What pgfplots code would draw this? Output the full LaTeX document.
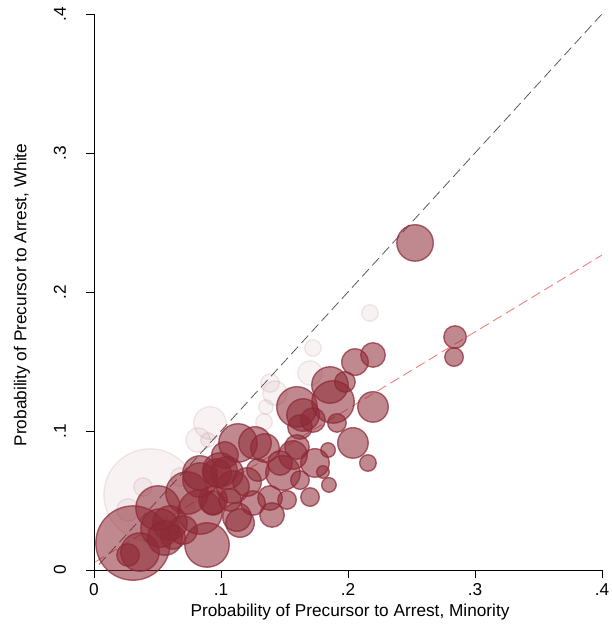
\documentclass[border=0pt]{standalone}
\usepackage{fontspec}
\setmainfont{Liberation Sans}
\usepackage{pgfplots}
\pgfplotsset{compat=1.18}
\usepackage{pgfplotstable}

\definecolor{bub}{RGB}{140,40,52}
\definecolor{gline}{RGB}{90,90,90}
\definecolor{rline}{RGB}{235,40,40}

\pgfplotstableread{
x y r
0.2528 0.2353 19
0.2843 0.1676 12
0.2835 0.1532 10
0.2197 0.1547 13
0.2055 0.1496 14
0.1858 0.1331 19
0.1976 0.1353 11
0.1882 0.1209 22
0.1598 0.1173 21
0.1646 0.1115 17
0.1724 0.1079 13
0.1913 0.1058 10
0.2197 0.1173 16
0.2039 0.0914 16
0.1843 0.0863 8
0.2157 0.0770 9
0.1850 0.0612 8
0.1803 0.0705 7
0.1701 0.0525 10
0.1740 0.0770 15
0.1598 0.0885 13
0.1567 0.0827 15
0.1622 0.1029 13
0.1386 0.0518 13
0.1402 0.0396 13
0.1134 0.0914 20
0.1268 0.0914 17
0.1346 0.0878 15
0.0835 0.0698 18
0.1047 0.0698 17
0.1205 0.0633 15
0.1465 0.0770 13
0.1252 0.0482 13
0.1126 0.0381 15
0.0937 0.0482 13
0.0307 0.0194 38
0.0362 0.0129 20
0.0504 0.0446 23
0.0520 0.0302 20
0.0559 0.0230 18
0.0598 0.0338 18
0.0732 0.0554 22
0.0835 0.0647 18
0.0835 0.0417 23
0.0890 0.0180 23
0.0701 0.0288 15
0.0969 0.0698 15
0.0937 0.0504 15
0.0622 0.0237 13
0.1488 0.0698 18
0.1150 0.0338 15
0.1520 0.0504 10
0.0992 0.0719 18
0.1094 0.0597 17
0.0268 0.0108 12
0.1291 0.0719 12
0.1622 0.0647 10
0.1031 0.0827 14
0.1071 0.0504 12
}\darkdata

\pgfplotstableread{
x y r
0.0441 0.0540 47
0.0386 0.0597 10
0.0268 0.0432 12
0.0677 0.0669 10
0.0913 0.1058 17
0.0819 0.0935 13
0.0898 0.0935 8
0.1724 0.1597 9
0.1701 0.1417 13
0.1425 0.1273 13
0.1386 0.1345 10
0.1354 0.1173 8
0.1339 0.1065 9
0.2173 0.1849 9
}\faintdata

\begin{document}
\begin{tikzpicture}
\useasboundingbox (-94bp,-60bp) rectangle (518bp,570bp);
\begin{axis}[
  anchor=south west, at={(0,0)},
  scale only axis, width=508bp, height=556bp,
  xmin=0, xmax=0.4, ymin=0, ymax=0.4,
  clip=false, axis on top,
  axis lines*=left,
  axis line style={line width=0.9pt, -},
  xtick={0,0.1,0.2,0.3,0.4}, ytick={0,0.1,0.2,0.3,0.4},
  xticklabels={0,.1,.2,.3,.4}, yticklabels={0,.1,.2,.3,.4},
  tick align=outside, major tick length=8bp,
  tick style={black, line width=0.9pt},
  every tick label/.append style={font=\fontsize{17.3}{21}\selectfont},
  xticklabel style={anchor=base, yshift=-17bp},
  yticklabel style={xshift=-20bp, rotate=90, anchor=base},
  xlabel={Probability of Precursor to Arrest, Minority},
  ylabel={Probability of Precursor to Arrest, White},
  every axis x label/.style={at={(axis description cs:0.5,0)}, anchor=base, yshift=-46bp, xshift=2bp, font=\fontsize{17.3}{21}\selectfont},
  every axis y label/.style={at={(axis description cs:0,0.5)}, xshift=-72bp, yshift=-3bp, rotate=90, anchor=center, font=\fontsize{17.3}{21}\selectfont},
]
\addplot[scatter, only marks, mark=*,
  scatter/use mapped color={draw=bub, fill=bub},
  visualization depends on={\thisrow{r}\as\rad},
  scatter/@pre marker code/.append style={/tikz/mark size=\rad-0.7},
  mark options={fill opacity=0.06, draw opacity=0.1, line width=1.4pt}]
  table[x=x,y=y]{\faintdata};
\addplot[scatter, only marks, mark=*,
  scatter/use mapped color={draw=bub, fill=bub},
  visualization depends on={\thisrow{r}\as\rad},
  scatter/@pre marker code/.append style={/tikz/mark size=\rad-0.7},
  mark options={fill opacity=0.55, draw opacity=0.7, line width=1.4pt}]
  table[x=x,y=y]{\darkdata};
\addplot[gline, dash pattern=on 10bp off 5bp, line width=0.8pt] coordinates {(0.004,0.004) (0.4,0.4)};
\addplot[rline, opacity=0.6, dash pattern=on 10bp off 5bp, line width=0.9pt] coordinates {(0.001,0.0058) (0.4,0.2266)};
\end{axis}
\end{tikzpicture}
\end{document}
